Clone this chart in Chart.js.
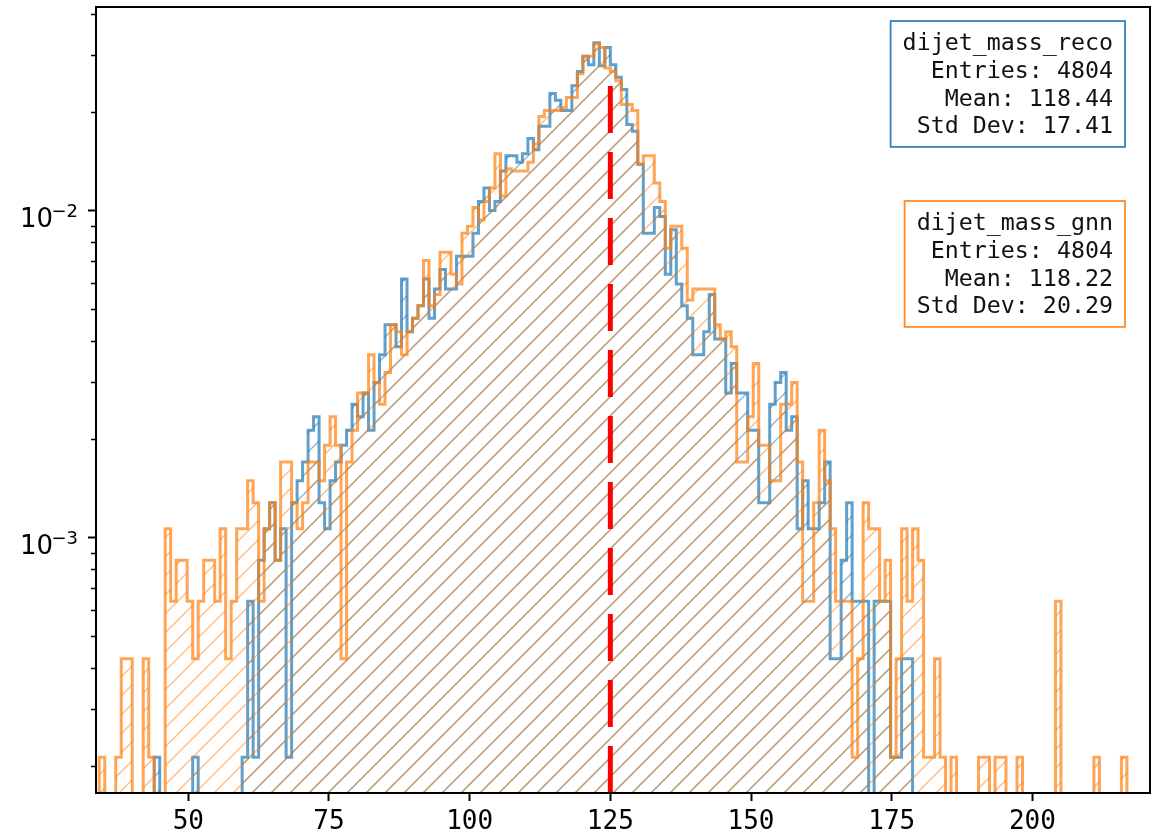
<!DOCTYPE html>
<html>
<head>
<meta charset="utf-8">
<script src="https://cdn.jsdelivr.net/npm/chart.js@4.4.1/dist/chart.umd.min.js"></script>
<style>
  html, body { margin: 0; padding: 0; background: #fff; }
  #c { display: block; }
</style>
</head>
<body>
<canvas id="c" width="1160" height="833"></canvas>
<script>
// Histogram binning: 256 equal bins over [0, 250]
const HIST_LO = 0;
const HIST_HI = 250;
const N_BINS = 256;
const FIRST_BIN = 34;            // index of the first stored bin

// Per-bin event counts, bins 34 .. 222
const RECO_COUNTS = [
  0,0,0,0,0,0,0,0,0,0,
  0,1,0,0,0,0,0,0,1,0,
  0,0,0,0,0,0,0,1,3,1,
  4,5,6,4,5,1,6,7,8,10,
  11,6,5,7,8,9,10,12,11,13,
  10,14,17,21,21,18,29,20,22,24,
  29,22,27,31,27,27,34,34,34,40,
  50,55,47,50,62,69,69,66,70,78,
  72,85,85,107,102,95,95,113,125,139,
  131,153,130,148,131,120,110,86,82,65,
  40,40,48,45,30,41,28,24,22,17,
  17,20,26,19,19,13,16,13,13,10,
  10,6,6,12,14,15,10,11,5,7,
  5,5,6,8,2,2,4,6,3,3,
  3,0,3,3,3,1,1,2,2,0,
  0,0,0,0,0,0,0,0,0,0,
  0,0,0,0,0,0,0,0,0,0,
  0,0,0,0,0,0,0,0,0,0,
  0,0,0,0,0,0,0,0,0
];
const GNN_COUNTS = [
  0,1,0,0,1,2,2,0,0,2,
  1,0,0,5,3,4,4,3,2,3,
  4,4,3,5,2,3,5,5,7,6,
  3,5,6,4,8,8,6,5,6,8,
  8,7,9,11,9,2,8,10,13,13,
  17,14,12,15,21,20,17,20,22,24,
  33,24,26,35,35,30,28,40,42,48,
  44,50,55,70,52,63,62,62,62,66,
  75,91,95,95,95,97,104,104,123,139,
  139,152,148,128,125,117,99,99,95,65,
  69,69,57,50,36,42,42,36,25,27,
  27,27,27,21,19,20,18,8,8,11,
  16,9,9,7,7,12,12,14,8,3,
  3,6,10,7,5,3,3,3,1,2,
  6,5,5,3,4,1,2,5,3,5,
  4,1,1,2,1,0,1,0,0,0,
  0,1,1,0,1,1,0,0,1,0,
  0,0,0,0,0,3,0,0,0,0,
  0,0,1,0,0,0,0,1,0
];

// Summary statistics shown in the boxes
const SERIES_NAMES = ['dijet_mass_reco', 'dijet_mass_gnn'];
const ENTRIES = [4804, 4804];
const MEANS = ['118.44', '118.22'];
const STD_DEVS = ['17.41', '20.29'];

// Axis ticks and reference mass
const X_TICKS = [50, 75, 100, 125, 150, 175, 200];
const Y_MAJOR = [1e-3, 1e-2];
const Y_MAJOR_EXP = ['-3', '-2'];
const Y_MINOR = [2e-4, 3e-4, 4e-4, 5e-4, 6e-4, 7e-4, 8e-4, 9e-4,
                 2e-3, 3e-3, 4e-3, 5e-3, 6e-3, 7e-3, 8e-3, 9e-3,
                 2e-2, 3e-2, 4e-2];
const REF_MASS = 125;
const X_MIN = 33.6;
const X_MAX = 220.9;

const BLUE = '31,119,180';
const ORANGE = '255,127,14';
const MONO = '"DejaVu Sans Mono", monospace';
const SANS = '"DejaVu Sans", sans-serif';

const BIN_WIDTH = (HIST_HI - HIST_LO) / N_BINS;
const FLOOR = 1e-8;   // stands in for empty bins on the log axis

// Step outline as points on bin edges (density normalised);
// with 'before' stepping each bin value runs from its left edge to the next edge
function stepPoints(counts, entries) {
  const norm = entries * BIN_WIDTH;
  const edge = i => HIST_LO + (FIRST_BIN + i) * BIN_WIDTH;
  const val = c => (c > 0 ? c / norm : FLOOR);
  const pts = [{ x: edge(0), y: FLOOR }];
  counts.forEach((c, i) => pts.push({ x: edge(i), y: val(c) }));
  const n = counts.length;
  pts.push({ x: edge(n), y: val(counts[n - 1]) });
  pts.push({ x: edge(n), y: FLOOR });
  return pts;
}

// y limits: positive data range padded by 5% in log space
const allDens = [];
[[RECO_COUNTS, ENTRIES[0]], [GNN_COUNTS, ENTRIES[1]]].forEach(([cs, n]) => {
  cs.forEach(c => { if (c > 0) allDens.push(c / (n * BIN_WIDTH)); });
});
const lo = Math.log10(Math.min(...allDens));
const hi = Math.log10(Math.max(...allDens));
const pad = 0.05 * (hi - lo);
const Y_MIN = Math.pow(10, lo - pad);
const Y_MAX = Math.pow(10, hi + pad);

const canvas = document.getElementById('c');
const ctx0 = canvas.getContext('2d');

// Diagonal "/" hatch tile in the series colour
function hatchPattern(rgb) {
  const s = 19;
  const tile = document.createElement('canvas');
  tile.width = s; tile.height = s;
  const g = tile.getContext('2d');
  g.strokeStyle = `rgba(${rgb},0.5)`;
  g.lineWidth = 1.5;
  g.beginPath();
  g.moveTo(-2, s + 2); g.lineTo(s + 2, -2);
  g.moveTo(-2, 2); g.lineTo(2, -2);
  g.moveTo(s - 2, s + 2); g.lineTo(s + 2, s - 2);
  g.stroke();
  return ctx0.createPattern(tile, 'repeat');
}

// Dashed reference line, frame, minor ticks, y labels and stat boxes
const decorations = {
  id: 'decorations',
  afterDatasetsDraw(chart) {
    const { ctx, chartArea: a, scales: { x } } = chart;
    const px = x.getPixelForValue(REF_MASS);
    ctx.save();
    ctx.strokeStyle = '#ff0000';
    ctx.lineWidth = 5;
    ctx.setLineDash([47, 19]);
    ctx.beginPath();
    ctx.moveTo(px, a.bottom);
    ctx.lineTo(px, a.bottom - 0.9 * (a.bottom - a.top));
    ctx.stroke();
    ctx.restore();
  },
  afterDraw(chart) {
    const { ctx, chartArea: a, scales: { y } } = chart;
    ctx.save();
    // frame
    ctx.strokeStyle = '#000';
    ctx.lineWidth = 2;
    ctx.strokeRect(a.left, a.top, a.right - a.left, a.bottom - a.top);
    // minor y ticks
    ctx.lineWidth = 1.5;
    Y_MINOR.forEach(v => {
      const py = Math.round(y.getPixelForValue(v)) + 0.5;
      ctx.beginPath();
      ctx.moveTo(a.left - 5, py);
      ctx.lineTo(a.left, py);
      ctx.stroke();
    });
    // major y labels: 10^{e}
    ctx.fillStyle = '#000';
    ctx.textBaseline = 'alphabetic';
    ctx.textAlign = 'right';
    Y_MAJOR.forEach((v, i) => {
      const py = y.getPixelForValue(v);
      const exp = Y_MAJOR_EXP[i].replace('-', '\u2212');
      ctx.font = `18px ${SANS}`;
      const ew = ctx.measureText(exp).width;
      const right = a.left - 18;
      ctx.fillText(exp, right, py + 6);
      ctx.font = `26px ${SANS}`;
      ctx.fillText('10', right - ew + 1.5, py + 16);
    });
    // statistics boxes
    const textRight = a.right - 37;
    const firstBase = [a.top + 43, a.top + 223];
    const lineGap = 27.8;
    [BLUE, ORANGE].forEach((rgb, i) => {
      const lines = [SERIES_NAMES[i], `Entries: ${ENTRIES[i]}`,
                     `Mean: ${MEANS[i]}`, `Std Dev: ${STD_DEVS[i]}`];
      ctx.font = `23.3px ${MONO}`;
      const w = Math.max(...lines.map(t => ctx.measureText(t).width));
      const top = firstBase[i] - 29;
      const bottom = firstBase[i] + lineGap * (lines.length - 1) + 13.5;
      const left = textRight - w - 12;
      const right = textRight + 12;
      ctx.fillStyle = '#fff';
      ctx.fillRect(left, top, right - left, bottom - top);
      ctx.strokeStyle = `rgba(${rgb},0.9)`;
      ctx.lineWidth = 1.8;
      ctx.strokeRect(left, top, right - left, bottom - top);
      ctx.fillStyle = '#111';
      ctx.textAlign = 'right';
      lines.forEach((t, j) => ctx.fillText(t, textRight, firstBase[i] + j * lineGap));
    });
    ctx.restore();
  }
};

const histDataset = (label, counts, entries, rgb, order) => ({
  label,
  data: stepPoints(counts, entries),
  stepped: 'before',
  borderColor: `rgba(${rgb},0.7)`,
  borderWidth: 3,
  backgroundColor: hatchPattern(rgb),
  fill: 'start',
  pointRadius: 0,
  pointHoverRadius: 0,
  tension: 0,
  order
});

new Chart(canvas, {
  type: 'line',
  data: {
    datasets: [
      histDataset(SERIES_NAMES[0], RECO_COUNTS, ENTRIES[0], BLUE, 1),
      histDataset(SERIES_NAMES[1], GNN_COUNTS, ENTRIES[1], ORANGE, 0)
    ]
  },
  options: {
    responsive: false,
    animation: false,
    events: [],
    layout: { padding: { top: 7, right: 10, left: 0, bottom: 0 } },
    plugins: { legend: { display: false }, tooltip: { enabled: false } },
    scales: {
      x: {
        type: 'linear',
        min: X_MIN,
        max: X_MAX,
        afterBuildTicks: s => { s.ticks = X_TICKS.map(v => ({ value: v })); },
        ticks: {
          font: { family: MONO, size: 26 },
          color: '#000',
          padding: 6,
          maxRotation: 0,
          autoSkip: false,
          callback: v => String(v)
        },
        grid: { display: true, drawOnChartArea: false, drawTicks: true,
                tickLength: 8, tickWidth: 2, tickColor: '#000' },
        border: { display: false },
        afterFit: s => { s.height = 40; }
      },
      y: {
        type: 'logarithmic',
        min: Y_MIN,
        max: Y_MAX,
        afterBuildTicks: s => { s.ticks = Y_MAJOR.map(v => ({ value: v, major: true })); },
        ticks: { display: false },
        grid: { display: true, drawOnChartArea: false, drawTicks: true,
                tickLength: 8, tickWidth: 2, tickColor: '#000' },
        border: { display: false },
        afterFit: s => { s.width = 96; }
      }
    }
  },
  plugins: [decorations]
});
</script>
</body>
</html>
